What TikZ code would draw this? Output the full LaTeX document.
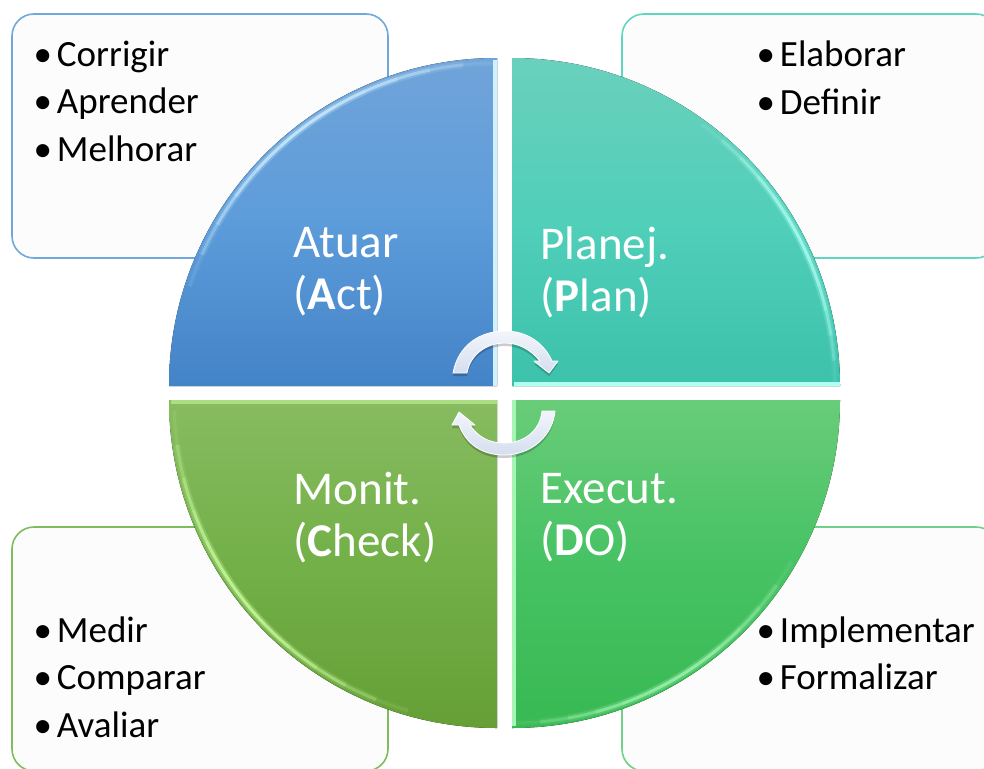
\documentclass[tikz,border=0pt]{standalone}
\usepackage{fontspec}
\setmainfont{Carlito}
\definecolor{actline}{HTML}{70A8DC}
\definecolor{planline}{HTML}{5FD6C0}
\definecolor{checkline}{HTML}{7FBC5C}
\definecolor{doline}{HTML}{70D088}
\definecolor{acttop}{HTML}{70A4D9}
\definecolor{actmid}{HTML}{5D9CDA}
\definecolor{actlow}{HTML}{4383C7}
\definecolor{plantop}{HTML}{6AD0BC}
\definecolor{planmid}{HTML}{50CFB9}
\definecolor{planlow}{HTML}{3CC1AB}
\definecolor{checktop}{HTML}{87BB60}
\definecolor{checkmid}{HTML}{73B048}
\definecolor{checklow}{HTML}{659F36}
\definecolor{dotop}{HTML}{69CC79}
\definecolor{domid}{HTML}{46C263}
\definecolor{dolow}{HTML}{38B953}
\definecolor{actsheen}{HTML}{D2F1FF}
\definecolor{plansheen}{HTML}{AFFFF3}
\definecolor{checksheen}{HTML}{CFFFA5}
\definecolor{dosheen}{HTML}{A5F5B5}
\definecolor{turnlight}{HTML}{F2F5FB}
\definecolor{turndark}{HTML}{D5DEEF}
\tikzset{
  notebox/.style={draw,line width=1.6pt,rounded corners=22pt,fill=white!99!black,minimum width=376pt,minimum height=244pt,anchor=north west,outer sep=0pt},
  notetext/.style={anchor=north west,align=left,text=black,font=\fontsize{37}{47.5}\selectfont},
  pdcatext/.style={anchor=north west,align=left,text=white,font=\fontsize{47}{52}\selectfont},
  edgeline/.style={line width=3.5pt,line cap=butt},
  turn/.style={top color=turnlight,bottom color=turndark,draw=white,line width=.8pt,line join=round},
  turnshadow/.style={fill=black,opacity=.2}
}
\newcommand{\bul}{•\hspace{5pt}}
% fading highlight along an arc: centre x, y, first angle, step, colour
\newcommand{\sheenarc}[5]{
    \foreach \k in {0,...,11}{
        \pgfmathsetmacro{\opac}{sin(15*(\k+0.5))}
        \pgfmathsetmacro{\ang}{#3+#4*\k}
        \draw[#5,line width=7pt,opacity=0.3*\opac] ([shift={(\ang:323pt)}]#1,#2) arc[start angle=\ang,delta angle=#4,radius=323pt];
        \draw[#5,line width=3pt,opacity=0.75*\opac] ([shift={(\ang:323pt)}]#1,#2) arc[start angle=\ang,delta angle=#4,radius=323pt];
    }
}
\begin{document}
\begin{tikzpicture}[x=1pt,y=-1pt]
    \useasboundingbox (0,0) rectangle (984,768);
    \clip (0,0) rectangle (984,768);
    % boxes behind the circle
    \node[notebox,draw=actline] (actbox) at (12,14) {};
    \node[notebox,draw=planline] (planbox) at (622,14) {};
    \node[notebox,draw=checkline] (checkbox) at (12,527) {};
    \node[notebox,draw=doline] (dobox) at (622,527) {};
    % four quadrants
    \fill[top color=acttop,bottom color=actlow,middle color=actmid] (497,386) -- (169,386) arc[start angle=180,end angle=90,radius=328pt] -- cycle;
    \fill[top color=plantop,bottom color=planlow,middle color=planmid] (512,386) -- (512,58) arc[start angle=90,end angle=0,radius=328pt] -- cycle;
    \fill[top color=checktop,bottom color=checklow,middle color=checkmid] (497,400) -- (169,400) arc[start angle=180,end angle=270,radius=328pt] -- cycle;
    \fill[top color=dotop,bottom color=dolow,middle color=domid] (512,400) -- (840,400) arc[start angle=0,end angle=-90,radius=328pt] -- cycle;
    % highlights on the edges
    \sheenarc{497}{386}{90}{6}{actsheen}
    \sheenarc{512}{386}{0}{4.5}{plansheen}
    \sheenarc{497}{400}{182}{6}{checksheen}
    \sheenarc{512}{400}{-90}{5}{dosheen}
    \draw[edgeline,actsheen] (495.2,60) -- (495.2,386);
    \draw[edgeline,plansheen] (514,384.2) -- (840,384.2);
    \draw[edgeline,checksheen,opacity=.5] (171,401.8) -- (497,401.8);
    \draw[edgeline,dosheen] (513.8,400) -- (513.8,726);
    % labels
    \node[pdcatext] (actlabel) at (290,224) {Atuar\\(\textbf{A}ct)};
    \node[pdcatext] (planlabel) at (537,223) {Planej.\\(\textbf{P}lan)};
    \node[pdcatext] (checklabel) at (290,469) {Monit.\\(\textbf{C}heck)};
    \node[pdcatext] (dolabel) at (537,470) {Execut.\\(\textbf{D}O)};
    \node[notetext] (acttext) at (30,37.5) {\bul Corrigir\\\bul Aprender\\\bul Melhorar};
    \node[notetext] (plantext) at (753,37.5) {\bul Elaborar\\\bul Definir};
    \node[notetext] (checktext) at (30,613) {\bul Medir\\\bul Comparar\\\bul Avaliar};
    \node[notetext] (dotext) at (753,613) {\bul Implementar\\\bul Formalizar};
    % turning arrows
    \fill[turnshadow,shift={(0pt,-3pt)}] (453,373) .. controls (458,346) and (479,331) .. (505,331) .. controls (527,331) and (544,343) .. (552,361) -- (558,361) -- (549,373) -- (534,361) -- (540,361) .. controls (531,350) and (519,343) .. (505,343) .. controls (486,343) and (470,355) .. (467,373) -- cycle;
    \fill[turnshadow,shift={(0pt,-3pt)}] (555,411) .. controls (553,436) and (531,455) .. (504,455) .. controls (482,455) and (466,444) .. (459,425) -- (452,425) -- (459,412) -- (475,425) -- (470,425) .. controls (478,437) and (489,443) .. (504,443) .. controls (524,443) and (540,431) .. (542,411) -- cycle;
    \path[turn] (453,373) .. controls (458,346) and (479,331) .. (505,331) .. controls (527,331) and (544,343) .. (552,361) -- (558,361) -- (549,373) -- (534,361) -- (540,361) .. controls (531,350) and (519,343) .. (505,343) .. controls (486,343) and (470,355) .. (467,373) -- cycle;
    \path[turn] (555,411) .. controls (553,436) and (531,455) .. (504,455) .. controls (482,455) and (466,444) .. (459,425) -- (452,425) -- (459,412) -- (475,425) -- (470,425) .. controls (478,437) and (489,443) .. (504,443) .. controls (524,443) and (540,431) .. (542,411) -- cycle;
\end{tikzpicture}
\end{document}
